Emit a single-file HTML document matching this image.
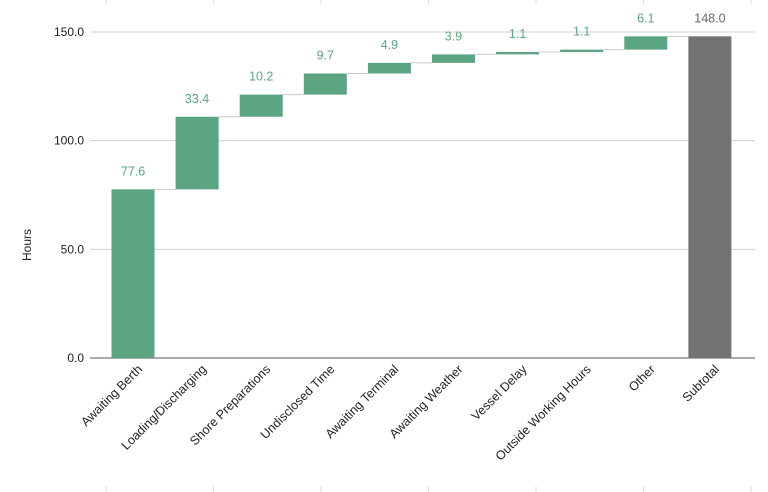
<!DOCTYPE html>
<html><head><meta charset="utf-8"><style>
html,body{margin:0;padding:0;background:#fff;}
svg{display:block;font-family:"Liberation Sans",Arial,sans-serif;}
</style></head><body>
<svg id="chart" width="768" height="492"></svg>
<script>
const categories=["Awaiting Berth","Loading/Discharging","Shore Preparations","Undisclosed Time","Awaiting Terminal","Awaiting Weather","Vessel Delay","Outside Working Hours","Other","Subtotal"];
const values=[77.6,33.4,10.2,9.7,4.9,3.9,1.1,1.1,6.1];
const yTicks=[0,50,100,150];
const NS="http://www.w3.org/2000/svg";
const svg=document.getElementById('chart');
const x0=90,x1=755,yBase=358,yTop=32,yMax=150;
const y=v=>yBase-(v/yMax)*(yBase-yTop);
const step=64.1;
const xc=i=>133+step*i;
const bw=43;
function mk(t,a,txt){const e=document.createElementNS(NS,t);for(const k in a)e.setAttribute(k,a[k]);if(txt!==undefined)e.textContent=txt;svg.appendChild(e);return e;}
for(let i=0;i<7;i++){const tx=106+i*107.5;
 let e=mk('line',{x1:tx,x2:tx,y1:0,y2:4,stroke:'#ddd'});
 
 e=mk('line',{x1:tx,x2:tx,y1:486,y2:492,stroke:'#ddd'});
 }
yTicks.forEach(t=>{
 const g=mk('line',{x1:x0,x2:x1,y1:y(t),y2:y(t),stroke:t===0?'#777':'#d0d0d0','stroke-width':t===0?1.2:1});
 
 const l=mk('text',{x:84,y:y(t)+4,'text-anchor':'end','font-size':12,fill:'#222'},t.toFixed(1));
 
});
const yt=mk('text',{x:31,y:245,'text-anchor':'middle','font-size':12,fill:'#222',transform:'rotate(-90 31 245)'},'Hours');

let cum=0;
const total=values.reduce((a,b)=>a+b,0);
categories.forEach((c,i)=>{
 const isTot=i===values.length;
 const lo=isTot?0:cum, hi=isTot?total:cum+values[i];
 const r=mk('rect',{x:xc(i)-bw/2,y:y(hi),width:bw,height:y(lo)-y(hi),fill:isTot?'#727272':'#5ba582'});
 
 
 const v=mk('text',{x:xc(i),y:y(hi)-14,'text-anchor':'middle','font-size':12.5,fill:isTot?'#666':'#5ba582'},(isTot?total:values[i]).toFixed(1));
 
 if(i<categories.length-1){
  const cn=mk('line',{x1:xc(i)+bw/2,x2:xc(i+1)-bw/2,y1:y(hi),y2:y(hi),stroke:'#ccc'});
  
 }
 const tx=xc(i)+10,ty=370;
 const cl=mk('text',{x:tx,y:ty,'text-anchor':'end','font-size':12.5,fill:'#222',transform:`rotate(-45 ${tx} ${ty})`},c);
 
 if(!isTot)cum=hi;
});
</script>
</body></html>
